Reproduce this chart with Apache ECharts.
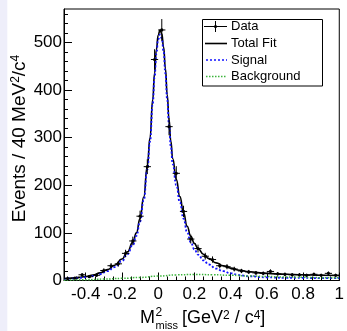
<!DOCTYPE html>
<html>
<head>
<meta charset="utf-8">
<script src="https://cdn.jsdelivr.net/npm/echarts@6/dist/echarts.min.js"></script>
<style>
html,body{margin:0;padding:0;background:#fff;}
#c{width:347px;height:331px;}
</style>
</head>
<body>
<div id="c"></div>
<script>
// ---- data ----
const binCenters = [-0.50,-0.46,-0.42,-0.38,-0.34,-0.30,-0.26,-0.22,-0.18,-0.14,-0.10,-0.06,-0.02,
  0.02,0.06,0.10,0.14,0.18,0.22,0.26,0.30,0.34,0.38,0.42,0.46,0.50,0.54,0.58,0.62,0.66,0.70,0.74,0.78,0.82,0.86,0.90,0.94,0.98];
const counts = [4,5,12,8,11,21,31,35,57,83,135,239,464,
  526,323,225,145,87,67,51,44,31,29,24,20,18,16,15,19,14,13,12,12,11,13,11,15,11];
const countErrors = [2.0,2.2,3.5,2.8,3.3,4.6,5.6,5.9,7.5,9.1,11.6,15.5,21.5,
  22.9,18.0,15.0,12.0,9.3,8.2,7.1,6.6,5.6,5.4,4.9,4.5,4.2,4.0,3.9,4.4,3.7,3.6,3.5,3.5,3.3,3.6,3.3,3.9,3.3];
const binWidth = 0.04;

const fitX = [-0.52,-0.48,-0.44,-0.40,-0.36,-0.32,-0.28,-0.24,-0.20,-0.17,-0.14,-0.12,-0.10,-0.08,-0.06,-0.045,-0.03,-0.02,-0.01,
  0.00,0.01,0.02,0.03,0.04,0.05,0.06,0.07,0.08,0.10,0.12,0.14,0.16,0.18,0.20,0.22,0.25,0.28,0.32,0.36,0.40,0.45,0.50,0.60,0.70,0.80,0.90,1.00];
const totalFit = [4,5,6.5,8.5,11.5,16,23,32,45,60,80,100,130,175,240,300,380,435,485,
  515,526,518,490,445,390,338,292,256,212,176,142,114,93,78,67,55,46,37,31,26,21.5,18.5,15,13,12,11,10.5];
const signalFit = [3.5,4.2,5.3,6.9,9.5,13.4,19.8,28.2,40.5,55,74.4,94,123.6,168,232.5,292,371.6,426.3,476,
  505.7,516.4,508.1,479.8,434.5,379.3,327,280.8,244.6,200.2,163.9,129.7,101.5,80.4,65.3,54.3,42.4,33.6,25,19.5,15,11.2,8.9,6.6,5.6,5.4,5,5];
const bkgX = [-0.52,-0.40,-0.30,-0.20,-0.10,0.00,0.10,0.20,0.30,0.40,0.50,0.60,0.70,0.80,0.90,1.00];
const bkgFit = [0.5,1.6,3,4.5,6.4,9.3,11.8,12.7,12.2,11,9.6,8.4,7.4,6.6,6,5.5];

const xTickLabels = [-0.4,-0.2,0,0.2,0.4,0.6,0.8,1];
const yTickLabels = [0,100,200,300,400,500];
const xRange = [-0.52, 1.0];
const yRange = [0, 570];

// minor ticks
const xMinor = [];
for (let k = -10; k <= 20; k++) { if (k % 4 !== 0) xMinor.push(Math.round(k * 5) / 100); }
const yMinor = [];
for (let v = 20; v <= 560; v += 20) { if (v % 100 !== 0) yMinor.push(v); }

const FONT = 'Liberation Sans, Arial, Helvetica, sans-serif';

const chart = echarts.init(document.getElementById('c'), null, {renderer: 'canvas'});

function xAxisDef(major) {
  return {
    type: 'value', min: xRange[0], max: xRange[1], position: 'bottom',
    axisLine: {show: major, onZero: false, lineStyle: {color: '#000', width: 1}},
    axisTick: {show: true, inside: true, length: major ? 8 : 4, customValues: major ? xTickLabels : xMinor,
      lineStyle: {color: '#000', width: 1}},
    axisLabel: {show: major, customValues: xTickLabels, margin: 5, color: '#000', fontSize: 17, fontFamily: FONT,
      formatter: v => String(Math.round(v * 10) / 10)},
    splitLine: {show: false}
  };
}
function yAxisDef(major) {
  return {
    type: 'value', min: yRange[0], max: yRange[1], position: 'left',
    axisLine: {show: major, onZero: false, lineStyle: {color: '#000', width: 1}},
    axisTick: {show: true, inside: true, length: major ? 8 : 4, customValues: major ? yTickLabels : yMinor,
      lineStyle: {color: '#000', width: 1}},
    axisLabel: {show: major, customValues: yTickLabels, margin: 2, color: '#000', fontSize: 17, fontFamily: FONT},
    splitLine: {show: false}
  };
}

const option = {
  animation: false,
  backgroundColor: '#fff',
  grid: {left: 64, right: 3, top: 9, bottom: 50.5, show: true, borderColor: '#000', borderWidth: 1, containLabel: false},
  xAxis: [xAxisDef(true), xAxisDef(false)],
  yAxis: [yAxisDef(true), yAxisDef(false)],
  series: [
    {
      type: 'line', name: 'Total Fit', xAxisIndex: 0, yAxisIndex: 0,
      data: fitX.map((x, i) => [x, totalFit[i]]),
      showSymbol: false, smooth: true, smoothMonotone: 'x',
      lineStyle: {color: '#000', width: 1.6}, z: 2
    },
    {
      type: 'line', name: 'Signal', xAxisIndex: 0, yAxisIndex: 0,
      data: fitX.map((x, i) => [x, signalFit[i]]),
      showSymbol: false, smooth: true, smoothMonotone: 'x',
      lineStyle: {color: '#1010ff', width: 1.8, type: [2, 2]}, z: 3
    },
    {
      type: 'line', name: 'Background', xAxisIndex: 0, yAxisIndex: 0,
      data: bkgX.map((x, i) => [x, bkgFit[i]]),
      showSymbol: false, smooth: true, smoothMonotone: 'x',
      lineStyle: {color: '#3cb43c', width: 1.5, type: [1.5, 1.5]}, z: 3
    },
    {
      type: 'custom', name: 'Data', xAxisIndex: 0, yAxisIndex: 0,
      data: binCenters.map((x, i) => [x, counts[i], countErrors[i]]),
      encode: {x: 0, y: 1},
      z: 4,
      renderItem: function (params, api) {
        const x = api.value(0), y = api.value(1), e = api.value(2);
        const c = api.coord([x, y]);
        const l = api.coord([x - binWidth / 2, y]);
        const r = api.coord([x + binWidth / 2, y]);
        const t = api.coord([x, y + e]);
        const b = api.coord([x, y - e]);
        return {
          type: 'group',
          children: [
            {type: 'line', shape: {x1: l[0], y1: c[1], x2: r[0], y2: c[1]}, style: {stroke: '#000', lineWidth: 1}},
            {type: 'line', shape: {x1: c[0], y1: t[1], x2: c[0], y2: b[1]}, style: {stroke: '#000', lineWidth: 1}},
            {type: 'circle', shape: {cx: c[0], cy: c[1], r: 1.6}, style: {fill: '#000'}}
          ]
        };
      }
    }
  ],
  graphic: [
    {type: 'rect', left: 0, top: 0, shape: {width: 7.3, height: 331}, style: {fill: '#eeeefa'}, silent: true},
    // Y axis title
    {type: 'text', x: 19.5, y: 138.5, rotation: Math.PI / 2,
      style: {text: 'Events / 40 MeV{s|2}/c{s|4}', fontSize: 19, fontFamily: FONT, fill: '#000',
        align: 'center', verticalAlign: 'middle',
        rich: {s: {fontSize: 12, fontFamily: FONT, fill: '#000', verticalAlign: 'top'}}}},
    // X axis title
    {type: 'text', x: 140, y: 318.5, style: {text: 'M', fontSize: 18, fontFamily: FONT, fill: '#000', align: 'left', verticalAlign: 'middle'}},
    {type: 'text', x: 155.5, y: 313, style: {text: '2', fontSize: 12, fontFamily: FONT, fill: '#000', align: 'left', verticalAlign: 'middle'}},
    {type: 'text', x: 155.5, y: 326, style: {text: 'miss', fontSize: 11, fontFamily: FONT, fill: '#000', align: 'left', verticalAlign: 'middle'}},
    {type: 'text', x: 182, y: 318.5,
      style: {text: '[GeV{s|2} / c{s|4}]', fontSize: 18, fontFamily: FONT, fill: '#000', align: 'left', verticalAlign: 'middle',
        rich: {s: {fontSize: 12, fontFamily: FONT, fill: '#000', verticalAlign: 'top'}}}},
    // Legend
    {type: 'rect', shape: {x: 202.5, y: 19.5, width: 120, height: 66.5}, style: {fill: '#fff', stroke: '#000', lineWidth: 1}, z: 10},
    {type: 'line', shape: {x1: 204, y1: 26.5, x2: 227, y2: 26.5}, style: {stroke: '#000', lineWidth: 1}, z: 11},
    {type: 'line', shape: {x1: 215.5, y1: 21, x2: 215.5, y2: 32}, style: {stroke: '#000', lineWidth: 1}, z: 11},
    {type: 'circle', shape: {cx: 215.5, cy: 26.5, r: 1.6}, style: {fill: '#000'}, z: 11},
    {type: 'line', shape: {x1: 205, y1: 43.5, x2: 227, y2: 43.5}, style: {stroke: '#000', lineWidth: 1.6}, z: 11},
    {type: 'line', shape: {x1: 206, y1: 60, x2: 227, y2: 60}, style: {stroke: '#1010ff', lineWidth: 1.6, lineDash: [2, 2]}, z: 11},
    {type: 'line', shape: {x1: 206, y1: 76.5, x2: 227, y2: 76.5}, style: {stroke: '#3cb43c', lineWidth: 1.5, lineDash: [1.5, 1.5]}, z: 11},
    {type: 'text', x: 231, y: 26.5, style: {text: 'Data', fontSize: 13, fontFamily: FONT, fill: '#000', align: 'left', verticalAlign: 'middle'}, z: 11},
    {type: 'text', x: 231, y: 43.5, style: {text: 'Total Fit', fontSize: 13, fontFamily: FONT, fill: '#000', align: 'left', verticalAlign: 'middle'}, z: 11},
    {type: 'text', x: 231, y: 60, style: {text: 'Signal', fontSize: 13, fontFamily: FONT, fill: '#000', align: 'left', verticalAlign: 'middle'}, z: 11},
    {type: 'text', x: 231, y: 76.5, style: {text: 'Background', fontSize: 13, fontFamily: FONT, fill: '#000', align: 'left', verticalAlign: 'middle'}, z: 11}
  ]
};
chart.setOption(option);
</script>
</body>
</html>
